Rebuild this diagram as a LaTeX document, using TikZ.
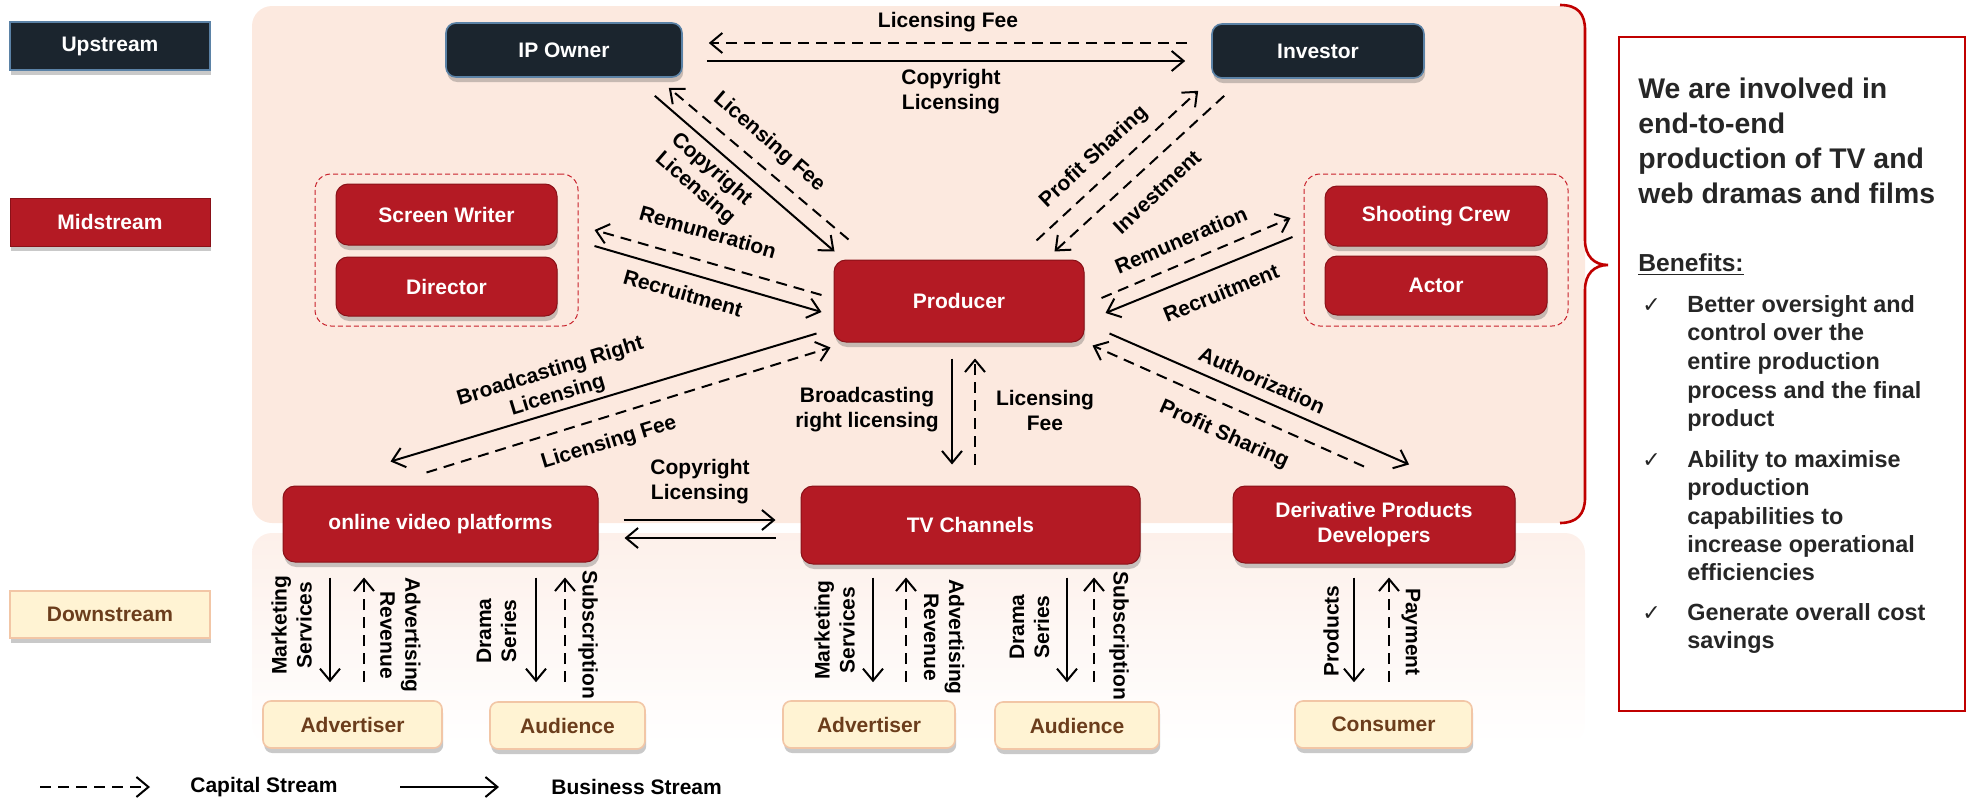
\documentclass[tikz,border=0pt]{standalone}
\usepackage{fontspec}
\setmainfont{Liberation Sans}
\newfontfamily\symfont{DejaVu Sans}
\usetikzlibrary{arrows.meta,shadows}

\definecolor{navy}{HTML}{1B252E}
\definecolor{navyedge}{HTML}{5B82A6}
\definecolor{mred}{HTML}{B41A24}
\definecolor{mrededge}{HTML}{8A1118}
\definecolor{cream}{HTML}{FFF3D3}
\definecolor{creamedge}{HTML}{F2C6A6}
\definecolor{brownt}{HTML}{6B3D1C}
\definecolor{peach}{HTML}{FCE9DF}
\definecolor{peachlight}{HTML}{FDF0EA}
\definecolor{bracered}{HTML}{C00000}
\definecolor{groupred}{HTML}{C8202A}

\tikzset{
  softshadow/.style={drop shadow={shadow xshift=0.6pt, shadow yshift=-2.5pt, opacity=0.3, fill=black!70}},
  basebox/.style={rectangle, inner sep=0pt, align=center,
    font=\bfseries\fontsize{10.5}{12.5}\selectfont},
  darkbox/.style={basebox, rounded corners=5pt, fill=navy, draw=navyedge, line width=0.8pt, text=white, softshadow},
  redbox/.style={basebox, rounded corners=6pt, fill=mred, draw=mrededge, line width=0.5pt, text=white, softshadow},
  creambox/.style={basebox, rounded corners=4pt, fill=cream, draw=creamedge, line width=0.8pt, text=brownt, softshadow},
  tierdark/.style={basebox, fill=navy, draw=navyedge, line width=0.8pt, text=white, softshadow},
  tierred/.style={basebox, fill=mred, draw=mrededge, line width=0.5pt, text=white, softshadow},
  tiercream/.style={basebox, fill=cream, draw=creamedge, line width=0.8pt, text=brownt, softshadow},
  groupbox/.style={rectangle, rounded corners=8pt, draw=groupred, line width=0.5pt, dash pattern=on 2.5pt off 1.5pt},
  lbl/.style={inner sep=0pt, align=center, font=\bfseries\fontsize{10.5}{12.5}\selectfont},
  bizflow/.style={line width=1pt, -{Straight Barb[length=6pt,width=10pt,line width=1pt]}},
  capflow/.style={bizflow, dash pattern=on 5.5pt off 3.5pt},
  tick/.style={anchor=base west, inner sep=0pt, font=\symfont\fontsize{11}{12}\selectfont, text=black!85},
  bullet/.style={anchor=north west, align=left, inner sep=0pt, font=\bfseries\fontsize{11.7}{14.3}\selectfont, text=black!85},
}

\begin{document}
\begin{tikzpicture}[x=0.5pt,y=-0.5pt]
\useasboundingbox (0,0) rectangle (1966,798);

% background regions
\fill[peach, rounded corners=10pt] (252,6) rectangle (1585,523);
\shade[top color=peachlight, bottom color=white, rounded corners=10pt] (252,533) rectangle (1585,745);

% brace joining the upper region to the panel
\draw[bracered, line width=1.3pt]
  (1560,5) .. controls (1578,5) and (1585,14) .. (1585,30) -- (1585,240)
  .. controls (1585,256) and (1594,265) .. (1608,265)
  .. controls (1594,265) and (1585,274) .. (1585,290) -- (1585,498)
  .. controls (1585,514) and (1577,523) .. (1560,523);

% tier labels
\node[tierdark, minimum width=100pt, minimum height=24pt] (up) at (110,46) {Upstream};
\node[tierred, minimum width=100pt, minimum height=24pt] (mid) at (110,222) {Midstream};
\node[tiercream, minimum width=100pt, minimum height=23.5pt] (down) at (110,614.5) {Downstream};

% dashed groups
\node[groupbox, minimum width=131.5pt, minimum height=76pt] (grpL) at (446.5,250) {};
\node[groupbox, minimum width=132pt, minimum height=76pt] (grpR) at (1436,250) {};

% upstream
\node[darkbox, minimum width=118pt, minimum height=27pt] (ipo) at (564,50) {IP Owner};
\node[darkbox, minimum width=106pt, minimum height=27pt] (inv) at (1318,51) {Investor};

% midstream
\node[redbox, minimum width=110.5pt, minimum height=30.5pt] (sw) at (446.5,214.5) {Screen Writer};
\node[redbox, minimum width=110.5pt, minimum height=29.5pt] (dir) at (446.5,286.5) {Director};
\node[redbox, minimum width=125pt, minimum height=41pt] (prod) at (959,301) {Producer};
\node[redbox, minimum width=111pt, minimum height=30pt] (crew) at (1436,216) {Shooting Crew};
\node[redbox, minimum width=111pt, minimum height=29.5pt] (actor) at (1436,285.5) {Actor};

\node[redbox, minimum width=157.5pt, minimum height=38pt] (ovp) at (440.5,524) {online video platforms};
\node[redbox, minimum width=169.5pt, minimum height=39pt] (tv) at (970.5,525) {TV Channels};
\node[redbox, minimum width=141pt, minimum height=38.5pt] (dpd) at (1374,524.5) {Derivative Products\\Developers};

% downstream
\node[creambox, minimum width=89.5pt, minimum height=23.5pt] (adv1) at (352.5,724.5) {Advertiser};
\node[creambox, minimum width=77.5pt, minimum height=23.5pt] (aud1) at (567.5,725.5) {Audience};
\node[creambox, minimum width=86pt, minimum height=23.5pt] (adv2) at (869,724.5) {Advertiser};
\node[creambox, minimum width=82pt, minimum height=23.5pt] (aud2) at (1077,725.5) {Audience};
\node[creambox, minimum width=88.5pt, minimum height=23.5pt] (cons) at (1383.5,724.5) {Consumer};

% IP owner <-> investor
\draw[capflow] ([shift={(-24,-8)}]inv.west) -- ([shift={(26,-7)}]ipo.east);
\draw[bizflow] ([shift={(24,11)}]ipo.east) -- ([shift={(-26,10)}]inv.west);
\node[lbl] (l1) at (948,22) {Licensing Fee};
\node[lbl] (l2) at (951,92) {Copyright\\Licensing};

% IP owner <-> producer
\draw[bizflow] ([shift={(-28,18)}]ipo.south east) -- ([shift={(1,-8)}]prod.north west);
\draw[capflow] ([shift={(15,-20)}]prod.north west) -- ([shift={(-14,10)}]ipo.south east);
\node[lbl, rotate=-41] (l3) at (703,179) {Copyright\\Licensing};
\node[lbl, rotate=-41] (l4) at (769,142) {Licensing Fee};

% investor <-> producer
\draw[capflow] ([shift={(-48,-19)}]prod.north east) -- ([shift={(-13,12)}]inv.south west);
\draw[capflow] ([shift={(13,17)}]inv.south west) -- ([shift={(-30,-8)}]prod.north east);
\node[lbl, rotate=43] (l5) at (1094,157) {Profit Sharing};
\node[lbl, rotate=43] (l6) at (1157,192) {Investment};

% producer <-> writer and director
\draw[capflow] ([shift={(-12,-6)}]prod.west) -- ([shift={(16,-20)}]grpL.east);
\draw[bizflow] ([shift={(16,-4)}]grpL.east) -- ([shift={(-12,11)}]prod.west);
\node[lbl, rotate=-16] (l7) at (708,232) {Remuneration};
\node[lbl, rotate=-16] (l8) at (683,293) {Recruitment};

% producer <-> crew and actor
\draw[capflow] ([shift={(17,-3)}]prod.east) -- ([shift={(-13,-32)}]grpR.west);
\draw[bizflow] ([shift={(-11,-13)}]grpR.west) -- ([shift={(21,12)}]prod.east);
\node[lbl, rotate=23] (l9) at (1181,240) {Remuneration};
\node[lbl, rotate=22] (l10) at (1221,293) {Recruitment};

% producer <-> online video platforms
\draw[bizflow] ([shift={(-17,-9)}]prod.south west) -- ([shift={(-50,-24)}]ovp.north);
\draw[capflow] ([shift={(-14,-13)}]ovp.north) -- ([shift={(-3,5)}]prod.south west);
\node[lbl, rotate=17] (l11) at (554,384) {Broadcasting Right\\Licensing};
\node[lbl, rotate=17] (l12) at (609,443) {Licensing Fee};

% producer <-> TV channels
\draw[bizflow] ([shift={(-7,16)}]prod.south) -- ([shift={(-18.5,-21)}]tv.north);
\draw[capflow] ([shift={(4.5,-21)}]tv.north) -- ([shift={(16,16)}]prod.south);
\node[lbl] (l13) at (867,410) {Broadcasting\\right licensing};
\node[lbl] (l14) at (1045,410) {Licensing\\Fee};

% producer <-> derivative products developers
\draw[bizflow] ([shift={(25,-9)}]prod.south east) -- ([shift={(35,-21)}]dpd.north);
\draw[capflow] ([shift={(-10,-19)}]dpd.north) -- ([shift={(8,3)}]prod.south east);
\node[lbl, rotate=-24] (l15) at (1262,380) {Authorization};
\node[lbl, rotate=-24] (l16) at (1224,435) {Profit Sharing};

% online video platforms <-> TV channels
\draw[bizflow] ([shift={(25,-4)}]ovp.east) -- ([shift={(-25,-5)}]tv.west);
\draw[bizflow] ([shift={(-25,13)}]tv.west) -- ([shift={(26,14)}]ovp.east);
\node[lbl] (l17) at (700,482) {Copyright\\Licensing};

% online video platforms -> downstream
\draw[bizflow] ([shift={(-110.5,15)}]ovp.south) -- ([shift={(-22.5,-18)}]adv1.north);
\draw[capflow] ([shift={(11.5,-18)}]adv1.north) -- ([shift={(-76.5,15)}]ovp.south);
\draw[bizflow] ([shift={(95.5,15)}]ovp.south) -- ([shift={(-31.5,-19)}]aud1.north);
\draw[capflow] ([shift={(-2.5,-19)}]aud1.north) -- ([shift={(124.5,15)}]ovp.south);
\node[lbl, rotate=90] (l18) at (291.5,625) {Marketing\\Services};
\node[lbl, rotate=-90] (l19) at (400.5,635) {Advertising\\Revenue};
\node[lbl, rotate=90] (l20) at (496.5,631) {Drama\\Series};
\node[lbl, rotate=-90] (l21) at (588,635) {Subscription};

% TV channels -> downstream
\draw[bizflow] ([shift={(-97.5,13)}]tv.south) -- ([shift={(4,-18)}]adv2.north);
\draw[capflow] ([shift={(37,-18)}]adv2.north) -- ([shift={(-64.5,13)}]tv.south);
\draw[bizflow] ([shift={(96.5,13)}]tv.south) -- ([shift={(-10,-19)}]aud2.north);
\draw[capflow] ([shift={(17,-19)}]aud2.north) -- ([shift={(123.5,13)}]tv.south);
\node[lbl, rotate=90] (l22) at (834.5,630) {Marketing\\Services};
\node[lbl, rotate=-90] (l23) at (944,637) {Advertising\\Revenue};
\node[lbl, rotate=90] (l24) at (1029.5,627) {Drama\\Series};
\node[lbl, rotate=-90] (l25) at (1119,636) {Subscription};

% derivative products developers -> consumer
\draw[bizflow] ([shift={(-20,14)}]dpd.south) -- ([shift={(-29.5,-18)}]cons.north);
\draw[capflow] ([shift={(5.5,-18)}]cons.north) -- ([shift={(15,14)}]dpd.south);
\node[lbl, rotate=90] (l26) at (1331,631) {Products};
\node[lbl, rotate=-90] (l27) at (1411,632) {Payment};

% legend
\coordinate (ca) at (40,787);
\coordinate (cb) at (150,787);
\coordinate (ba) at (400,787);
\coordinate (bb) at (499,787);
\draw[capflow] (ca) -- (cb);
\draw[bizflow] (ba) -- (bb);
\node[lbl, anchor=west] (lc) at (190,787) {Capital Stream};
\node[lbl, anchor=west] (lb) at (551,787) {Business Stream};

% summary panel
\node[draw=bracered, line width=1pt, minimum width=173pt, minimum height=337pt, inner sep=0pt] (panel) at (1792,374) {};
\node[anchor=north west, align=left, inner sep=0pt,
      font=\bfseries\fontsize{14.2}{17.5}\selectfont, text=black!85] (head) at (1638,78)
  {We are involved in\\end-to-end\\production of TV and\\web dramas and films};
\node[anchor=base west, inner sep=0pt, font=\bfseries\fontsize{12.3}{14}\selectfont, text=black!85] (ben) at (1638,271) {\underline{Benefits:}};

\node[tick] (c1) at (1642,312) {✓};
\node[tick] (c2) at (1642,467) {✓};
\node[tick] (c3) at (1642,620) {✓};

\node[bullet] (b1) at (1687,295)
  {Better oversight and\\control over the\\entire production\\process and the final\\product};
\node[bullet, font=\bfseries\fontsize{11.7}{14.2}\selectfont] (b2) at (1687,450)
  {Ability to maximise\\production\\capabilities to\\increase operational\\efficiencies};
\node[bullet] (b3) at (1687,603)
  {Generate overall cost\\savings};
\end{tikzpicture}
\end{document}
